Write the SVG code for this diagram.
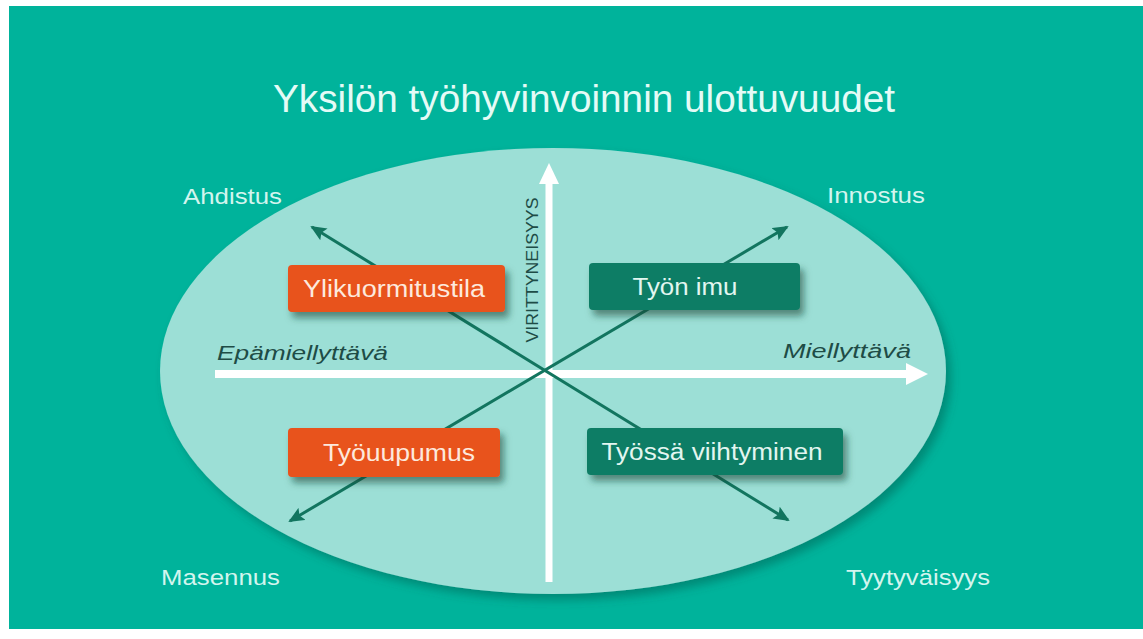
<svg xmlns="http://www.w3.org/2000/svg" width="1143" height="639" viewBox="0 0 1143 639">
<defs>
<style>
.lbl{font-family:"Liberation Sans",Arial,sans-serif;font-size:22px;fill:#d3f5ee;}
.ax{font-family:"Liberation Sans",Arial,sans-serif;font-style:italic;font-size:20px;fill:#1e4c46;}
.bt{font-family:"Liberation Sans",Arial,sans-serif;font-size:23px;text-anchor:middle;}
.diag{stroke:#12755f;stroke-width:3;fill:none;marker-start:url(#ah);marker-end:url(#ah);}
</style>
<marker id="ah" markerUnits="userSpaceOnUse" markerWidth="16" markerHeight="14" refX="14" refY="7" orient="auto-start-reverse" viewBox="0 0 16 14">
<path d="M0,0 L16,7 L0,14 L3,7 Z" fill="#12755f"/>
</marker>
<filter id="sh" x="-10%" y="-10%" width="130%" height="140%">
<feDropShadow dx="4" dy="6" stdDeviation="3.5" flood-color="#0a3d33" flood-opacity="0.55"/>
</filter>
<filter id="esh" x="-5%" y="-5%" width="115%" height="120%">
<feDropShadow dx="5" dy="6" stdDeviation="5" flood-color="#05594c" flood-opacity="0.45"/>
</filter>
</defs>
<rect x="0" y="0" width="1143" height="639" fill="#ffffff"/>
<rect x="9" y="6" width="1134" height="623" fill="#00b39b"/>
<text x="584" y="112" font-family="Liberation Sans, Arial, sans-serif" font-size="38" fill="#e4fbf6" text-anchor="middle" textLength="622" lengthAdjust="spacingAndGlyphs">Yksilön työhyvinvoinnin ulottuvuudet</text>
<ellipse cx="553" cy="371" rx="393" ry="223" fill="#9cdfd6" filter="url(#esh)"/>

<g id="axes">
<line x1="215" y1="374" x2="908" y2="374" stroke="#ffffff" stroke-width="8"/>
<polygon points="906,363 928,374 906,385" fill="#ffffff"/>
<line x1="549" y1="582" x2="549" y2="182" stroke="#ffffff" stroke-width="7"/>
<polygon points="539,184 549,163 559,184" fill="#ffffff"/>
</g>

<g id="connectors">
<line class="diag" x1="312" y1="227" x2="788" y2="520"/>
<line class="diag" x1="290" y1="521" x2="787" y2="227"/>
</g>

<text class="ax" x="217" y="360" textLength="171" lengthAdjust="spacingAndGlyphs">Epämiellyttävä</text>
<text class="ax" x="911" y="358" text-anchor="end" textLength="128" lengthAdjust="spacingAndGlyphs">Miellyttävä</text>
<text transform="translate(538,270) rotate(-90)" font-family="Liberation Sans, Arial, sans-serif" font-size="17" fill="#1e4c46" text-anchor="middle" textLength="145" lengthAdjust="spacingAndGlyphs">VIRITTYNEISYYS</text>

<text class="lbl" x="183" y="204" textLength="99" lengthAdjust="spacingAndGlyphs">Ahdistus</text>
<text class="lbl" x="827" y="203" textLength="98" lengthAdjust="spacingAndGlyphs">Innostus</text>
<text class="lbl" x="161" y="585" textLength="119" lengthAdjust="spacingAndGlyphs">Masennus</text>
<text class="lbl" x="846" y="585" textLength="144" lengthAdjust="spacingAndGlyphs">Tyytyväisyys</text>

<g id="node-ylikuormitustila">
<rect x="288" y="265" width="217" height="47" rx="4" fill="#e8531f" filter="url(#sh)"/>
<text class="bt" x="394" y="297" fill="#fde9dd" textLength="182" lengthAdjust="spacingAndGlyphs">Ylikuormitustila</text>
</g>
<g id="node-tyon-imu">
<rect x="589" y="263" width="211" height="47" rx="4" fill="#0f7d65" filter="url(#sh)"/>
<text class="bt" x="685" y="295" fill="#e2f6f0" textLength="105" lengthAdjust="spacingAndGlyphs">Työn imu</text>
</g>
<g id="node-tyouupumus">
<rect x="288" y="428" width="212" height="49" rx="4" fill="#e8531f" filter="url(#sh)"/>
<text class="bt" x="399" y="461" fill="#fde9dd" textLength="152" lengthAdjust="spacingAndGlyphs">Työuupumus</text>
</g>
<g id="node-tyossa-viihtyminen">
<rect x="587" y="428" width="256" height="47" rx="4" fill="#0f7d65" filter="url(#sh)"/>
<text class="bt" x="712" y="460" fill="#e2f6f0" textLength="221" lengthAdjust="spacingAndGlyphs">Työssä viihtyminen</text>
</g>
</svg>
